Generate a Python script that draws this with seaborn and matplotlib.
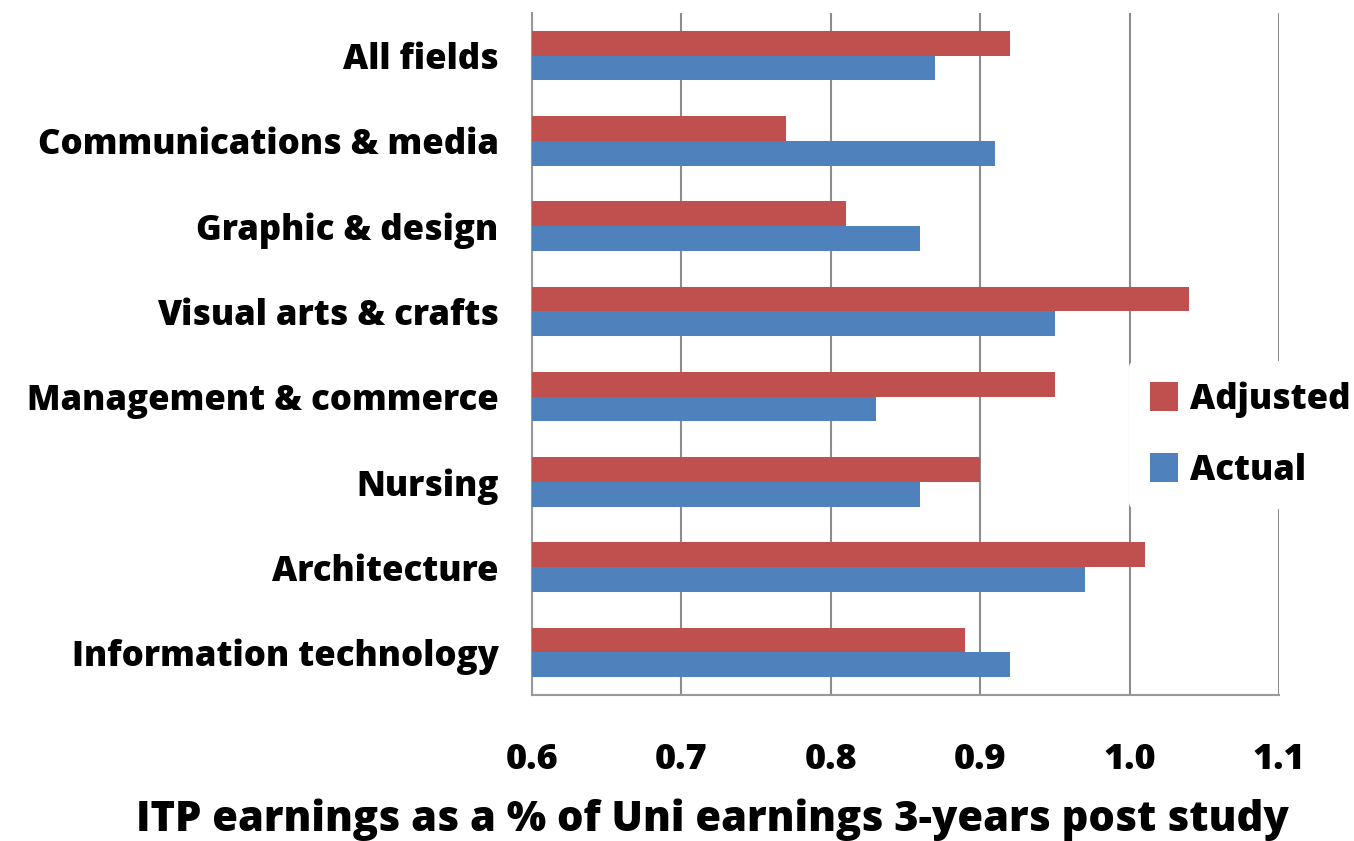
import pandas as pd
import matplotlib
matplotlib.use('Agg')
import matplotlib.pyplot as plt
import seaborn as sns

# data
fields = ['All fields', 'Communications & media', 'Graphic & design',
          'Visual arts & crafts', 'Management & commerce', 'Nursing',
          'Architecture', 'Information technology']
adjusted = [0.92, 0.77, 0.81, 1.04, 0.95, 0.90, 1.01, 0.89]
actual = [0.87, 0.91, 0.86, 0.95, 0.83, 0.86, 0.97, 0.92]
xticks = [0.6, 0.7, 0.8, 0.9, 1.0, 1.1]

df = pd.DataFrame({
    'field': fields * 2,
    'value': adjusted + actual,
    'series': ['Adjusted'] * len(fields) + ['Actual'] * len(fields),
})

sns.set_style('white')
plt.rcParams['font.family'] = ['Open Sans', 'DejaVu Sans']
plt.rcParams['text.color'] = 'black'

fig = plt.figure(figsize=(13.54, 8.41), dpi=100)
ax = fig.add_axes([532 / 1354, 1 - 695 / 841, (1279 - 532) / 1354, (695 - 13) / 841])

sns.barplot(data=df, x='value', y='field', hue='series', order=fields,
            hue_order=['Adjusted', 'Actual'],
            palette={'Adjusted': '#C0504D', 'Actual': '#4F81BD'},
            width=0.58, orient='h', ax=ax, saturation=1, linewidth=0, zorder=3)

ax.set_xlim(0.6, 1.1)
ax.set_xticks(xticks)
ax.set_xticklabels([f'{t:.1f}' for t in xticks], fontsize=26, fontweight='heavy')
ax.tick_params(axis='x', length=12, width=1.5, color='#999999', pad=22,
               direction='out', labelcolor='black')
ax.grid(axis='x', color='#8c8c8c', linewidth=1.5, zorder=0)
ax.set_axisbelow(True)

# category ticks sit on boundaries between groups
ax.set_yticks(range(len(fields)))
ax.set_yticklabels(fields, fontsize=25, fontweight='heavy')
ax.set_yticks([i - 0.5 for i in range(len(fields) + 1)], minor=True)
ax.tick_params(axis='y', which='major', length=0, pad=24, labelcolor='black')
ax.tick_params(axis='y', which='minor', length=14, width=1.5, color='#999999', direction='out')
ax.set_ylim(len(fields) - 0.5, -0.5)

for s in ['top', 'right']:
    ax.spines[s].set_visible(False)
for s in ['left', 'bottom']:
    ax.spines[s].set_color('#999999')
    ax.spines[s].set_linewidth(1.5)

ax.set_xlabel('')
ax.set_ylabel('')

leg = ax.legend(loc='center left', bbox_to_anchor=((1129 - 532) / (1279 - 532), 0.5 - (435 - 354) / 682),
                frameon=True, prop={'weight': 'heavy', 'size': 25},
                handlelength=0.8, handleheight=0.9, labelspacing=1.0, borderpad=0.6,
                handletextpad=0.35, framealpha=1, borderaxespad=0)
leg.get_frame().set_edgecolor('white')
leg.get_frame().set_linewidth(0)
for t in leg.get_texts():
    t.set_color('black')

fig.text(712 / 1354, 1 - 820 / 841, 'ITP earnings as a % of Uni earnings 3-years post study',
         ha='center', va='center', fontsize=30, fontweight='heavy', color='black')

fig.savefig('out.png', dpi=100)
